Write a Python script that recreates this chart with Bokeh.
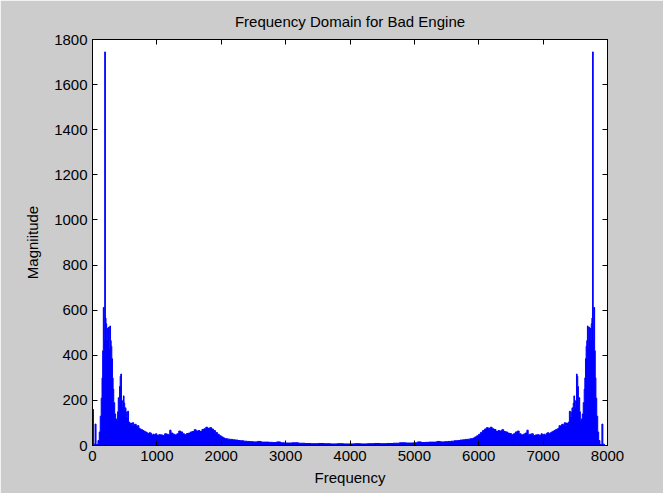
from bokeh.plotting import figure
from bokeh.models import (Range1d, LinearAxis, FixedTicker, ColumnDataSource,
                          CustomJSTickFormatter, CustomLabelingPolicy)
from bokeh.embed import file_html
from bokeh.resources import INLINE

# Magnitude spectrum of the bad-engine recording, stored as steps:
# each value holds from its start frequency up to the next one.
freq_hz = [
    0, 15, 40, 55, 85, 105, 120, 135, 148, 158, 168, 180, 190, 200, 210, 220,
    230, 240, 250, 260, 270, 280, 290, 300, 310, 320, 330, 345, 360, 375, 390,
    400, 410, 420, 430, 440, 450, 460, 470, 480, 490, 500, 510, 520, 530, 545,
    560, 575, 590, 605, 620, 640, 660, 680, 700, 720, 740, 760, 780, 800, 820,
    840, 860, 880, 900, 920, 940, 960, 980, 1000, 1030, 1060, 1090, 1120, 1150,
    1180, 1200, 1220, 1250, 1280, 1310, 1340, 1370, 1400, 1430, 1460, 1490,
    1520, 1550, 1580, 1610, 1640, 1670, 1700, 1730, 1760, 1790, 1820, 1850,
    1880, 1910, 1940, 1970, 2000, 2030, 2060, 2100, 2140, 2180, 2220, 2260,
    2300, 2350, 2400, 2450, 2500, 2560, 2620, 2680, 2740, 2800, 2860, 2920,
    2980, 3040, 3100, 3200, 3300, 3400, 3500, 3600, 3700, 3800, 3900,
    3984, 4068, 4168, 4268, 4368, 4468, 4568, 4668, 4768, 4868, 4928, 4988,
    5048, 5108, 5168, 5228, 5288, 5348, 5408, 5468, 5518, 5568, 5618, 5668,
    5708, 5748, 5788, 5828, 5868, 5908, 5938, 5968, 5998, 6028, 6058, 6088,
    6118, 6148, 6178, 6208, 6238, 6268, 6298, 6328, 6358, 6388, 6418, 6448,
    6478, 6508, 6538, 6568, 6598, 6628, 6658, 6688, 6718, 6748, 6768, 6788,
    6818, 6848, 6878, 6908, 6938, 6968, 6988, 7008, 7028, 7048, 7068, 7088,
    7108, 7128, 7148, 7168, 7188, 7208, 7228, 7248, 7268, 7288, 7308, 7328,
    7348, 7363, 7378, 7393, 7408, 7423, 7438, 7448, 7458, 7468, 7478, 7488,
    7498, 7508, 7518, 7528, 7538, 7548, 7558, 7568, 7578, 7593, 7608, 7623,
    7638, 7648, 7658, 7668, 7678, 7688, 7698, 7708, 7718, 7728, 7738, 7748,
    7758, 7768, 7778, 7788, 7800, 7810, 7820, 7833, 7848, 7863, 7883, 7913,
    7928, 7953,
]

magnitude = [
    160, 6, 95, 4, 22, 60, 130, 210, 300, 420, 612, 470, 1745, 565, 540, 470,
    520, 495, 525, 430, 530, 465, 440, 385, 300, 250, 190, 140, 118, 112, 150,
    212, 180, 262, 307, 317, 198, 168, 200, 220, 188, 160, 167, 148, 128, 152,
    104, 96, 100, 88, 101, 92, 94, 86, 88, 76, 72, 70, 66, 63, 60,
    56, 52, 57, 54, 46, 50, 48, 52, 45, 48, 47, 44, 52, 50,
    47, 68, 55, 50, 47, 52, 64, 60, 52, 48, 53, 55,
    60, 62, 70, 64, 66, 62, 71, 74, 81, 76, 79, 73,
    66, 58, 50, 43, 38, 33, 30, 28, 27, 25, 24, 22,
    21, 19, 18, 17, 16, 18, 15, 15, 14, 13, 16, 12,
    11, 11, 12, 10, 9, 8, 9, 8, 7, 8, 7,
    7, 8, 7, 8, 9, 8, 9, 10, 12, 11, 11, 12,
    16, 13, 14, 15, 15, 18, 16, 17, 18, 19, 21, 22,
    24, 25, 27, 28, 30, 33, 38, 43, 50, 58, 66, 73,
    79, 76, 81, 74, 71, 62, 66, 64, 70, 62, 60, 55,
    53, 48, 52, 60, 64, 52, 47, 50, 55, 68, 47, 50,
    52, 44, 47, 48, 45, 52, 48, 50, 46, 54, 57, 52,
    56, 60, 63, 66, 70, 72, 76, 88, 86, 94, 92, 101,
    88, 100, 96, 104, 152, 128, 148, 167, 160, 188, 220, 200,
    168, 198, 317, 307, 262, 180, 212, 150, 112, 118, 140, 190,
    250, 300, 385, 440, 465, 530, 430, 525, 495, 520, 470, 540,
    565, 1745, 470, 612, 420, 300, 210, 130, 60, 22, 4, 95,
    6, 0,
]

x_ticks = [0, 1000, 2000, 3000, 4000, 5000, 6000, 7000, 8000]
y_ticks = [0, 200, 400, 600, 800, 1000, 1200, 1400, 1600, 1800]

FONT = "Liberation Sans"
BLUE = "#0000ff"

source = ColumnDataSource(data=dict(freq=freq_hz, mag=magnitude, base=[0] * len(freq_hz)))

p = figure(
    width=663, height=493,
    output_backend="svg", toolbar_location=None,
    x_range=Range1d(0, 8000), y_range=Range1d(0, 1800),
    min_border_left=92, min_border_right=56,
    min_border_top=39, min_border_bottom=48,
    background_fill_color="white", border_fill_color="#cccccc",
)

p.varea_step(x="freq", y1="base", y2="mag", step_mode="after",
             fill_color=BLUE, source=source)
p.step(x="freq", y="mag", mode="after", line_color=BLUE, line_width=1, source=source)

p.title.text = "Frequency Domain for Bad Engine"
p.title.align = "center"
p.title.vertical_align = "middle"
p.title.standoff = 18
p.title.text_font = FONT
p.title.text_font_size = "15px"
p.title.text_font_style = "normal"
p.title.text_color = "black"

p.xgrid.visible = False
p.ygrid.visible = False
p.outline_line_color = "black"
p.outline_line_width = 1


def style_axis(ax):
    ax.major_tick_in = 5
    ax.major_tick_out = 0
    ax.minor_tick_in = 0
    ax.minor_tick_out = 0
    ax.axis_line_color = "black"
    ax.major_tick_line_color = "black"
    ax.major_label_text_font = FONT
    ax.major_label_text_color = "black"
    ax.major_label_text_font_size = "15px"
    ax.major_label_standoff = 5
    ax.axis_label_text_font = FONT
    ax.axis_label_text_font_style = "normal"
    ax.axis_label_text_color = "black"
    ax.axis_label_text_font_size = "15px"


p.xaxis.ticker = FixedTicker(ticks=x_ticks)
p.yaxis.ticker = FixedTicker(ticks=y_ticks)
p.xaxis.axis_label = "Frequency"
p.yaxis.axis_label = "Magniitude"
style_axis(p.xaxis[0])
style_axis(p.yaxis[0])
p.xaxis.axis_label_standoff = 5
p.yaxis.axis_label_standoff = 10

# Tick marks along the top and right edges of the box, without numbers:
# the labels are blank and the labeling policy skips drawing them.
blank = CustomJSTickFormatter(code="return ''")
no_labels = CustomLabelingPolicy(
    code="for (const i of Array.from(indices)) { indices.unset(i) }\nreturn indices"
)
top_axis = LinearAxis(ticker=FixedTicker(ticks=x_ticks), formatter=blank,
                      major_label_policy=no_labels)
right_axis = LinearAxis(ticker=FixedTicker(ticks=y_ticks), formatter=blank,
                        major_label_policy=no_labels)
style_axis(top_axis)
style_axis(right_axis)
top_axis.major_label_standoff = 0
right_axis.major_label_standoff = 0
p.add_layout(top_axis, "above")
p.add_layout(right_axis, "right")

open("out.html", "w").write(file_html(p, INLINE))
